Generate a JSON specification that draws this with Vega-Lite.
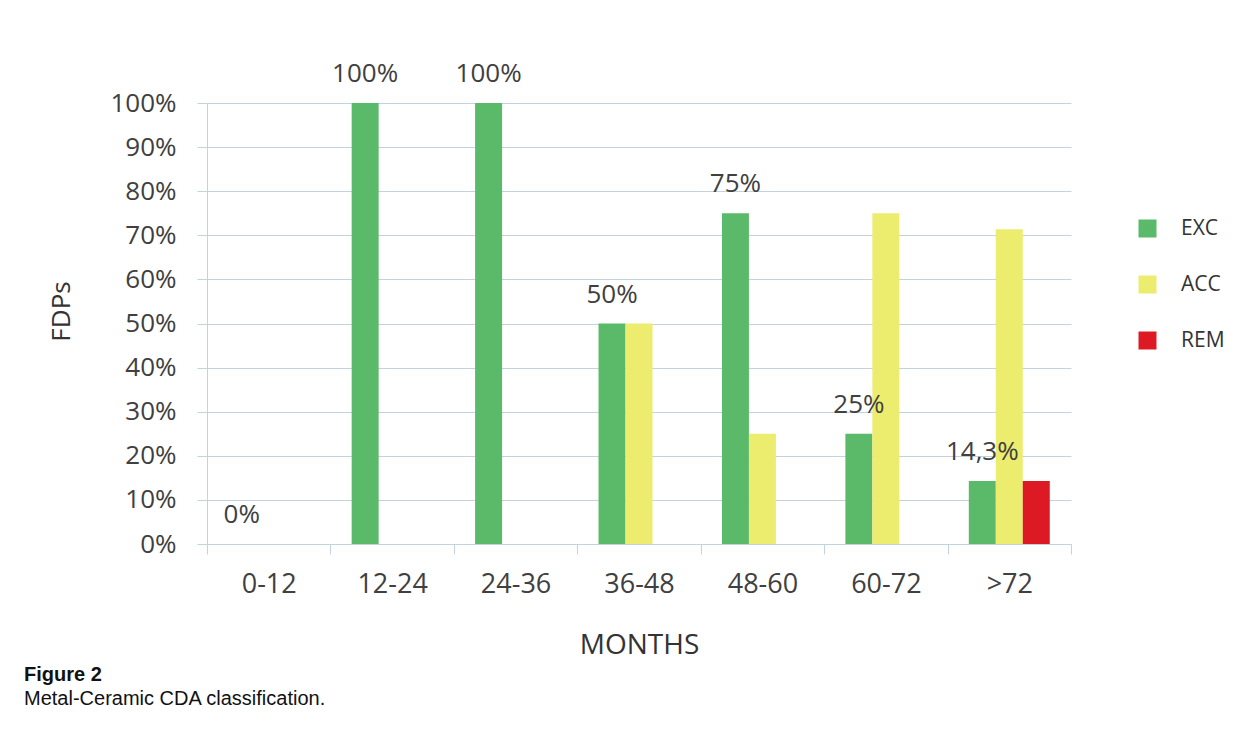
{
  "$schema": "https://vega.github.io/schema/vega-lite/v6.json",
  "autosize": "none",
  "width": 864,
  "height": 441,
  "padding": {"left": 207, "top": 103, "right": 172, "bottom": 185},
  "background": "white",
  "config": {
    "view": {"stroke": null},
    "font": "Open Sans",
    "axis": {
      "gridColor": "#c3d3de",
      "domainColor": "#c3d3de",
      "tickColor": "#c3d3de",
      "labelColor": "#404040",
      "titleColor": "#333333",
      "titleFontWeight": "normal",
      "labelFont": "Open Sans",
      "titleFont": "Open Sans"
    }
  },
  "title": {
    "text": "Figure 2",
    "subtitle": "Metal-Ceramic CDA classification.",
    "orient": "bottom",
    "anchor": "start",
    "frame": "group",
    "dx": -183,
    "offset": 6,
    "font": "Liberation Sans",
    "fontSize": 20,
    "fontWeight": "bold",
    "color": "#111111",
    "subtitleFont": "Liberation Sans",
    "subtitleFontSize": 20,
    "subtitleColor": "#111111",
    "subtitlePadding": 4
  },
  "data": {
    "values": [
      {"months": "0-12", "series": "EXC", "pct": 0, "label": "0%"},
      {"months": "12-24", "series": "EXC", "pct": 100, "label": "100%"},
      {"months": "24-36", "series": "EXC", "pct": 100, "label": "100%"},
      {"months": "36-48", "series": "EXC", "pct": 50, "label": "50%"},
      {"months": "36-48", "series": "ACC", "pct": 50, "label": ""},
      {"months": "48-60", "series": "EXC", "pct": 75, "label": "75%"},
      {"months": "48-60", "series": "ACC", "pct": 25, "label": ""},
      {"months": "60-72", "series": "EXC", "pct": 25, "label": "25%"},
      {"months": "60-72", "series": "ACC", "pct": 75, "label": ""},
      {"months": ">72", "series": "EXC", "pct": 14.3, "label": "14,3%"},
      {"months": ">72", "series": "ACC", "pct": 71.4, "label": ""},
      {"months": ">72", "series": "REM", "pct": 14.3, "label": ""}
    ]
  },
  "encoding": {
    "x": {
      "field": "months",
      "type": "nominal",
      "sort": ["0-12", "12-24", "24-36", "36-48", "48-60", "60-72", ">72"],
      "scale": {"paddingInner": 0, "paddingOuter": 0},
      "axis": {
        "title": "MONTHS",
        "titleFontSize": 28,
        "titlePadding": 34,
        "labelAngle": 0,
        "labelFontSize": 27,
        "labelPadding": 17,
        "tickSize": 10,
        "tickBand": "extent",
        "grid": false
      }
    },
    "xOffset": {
      "field": "series",
      "type": "nominal",
      "scale": {"domain": ["EXC", "ACC", "REM"], "paddingInner": 0, "paddingOuter": 0.787}
    },
    "y": {
      "field": "pct",
      "type": "quantitative",
      "scale": {"domain": [0, 100], "nice": false},
      "axis": {
        "values": [0, 10, 20, 30, 40, 50, 60, 70, 80, 90, 100],
        "labelExpr": "datum.value + '%'",
        "labelFontSize": 26,
        "labelPadding": 21,
        "tickSize": 10,
        "title": "FDPs",
        "titleFontSize": 26,
        "titleAngle": 270,
        "titleX": -146,
        "titleY": 208,
        "titleAlign": "center",
        "titleBaseline": "middle"
      }
    }
  },
  "layer": [
    {
      "mark": {"type": "bar"},
      "encoding": {
        "color": {
          "field": "series",
          "type": "nominal",
          "scale": {"domain": ["EXC", "ACC", "REM"], "range": ["#5bba6a", "#ecec6e", "#dd1a24"]},
          "legend": {
            "title": null,
            "orient": "none",
            "legendX": 930,
            "legendY": 115,
            "symbolType": "square",
            "symbolSize": 324,
            "symbolStrokeWidth": 0,
            "labelFontSize": 21,
            "labelColor": "#333333",
            "labelFont": "Open Sans",
            "labelOffset": 23,
            "rowPadding": 34
          }
        }
      }
    },
    {
      "transform": [{"filter": "datum.label != ''"}],
      "mark": {"type": "text", "dy": -29, "fontSize": 26, "color": "#404040", "baseline": "middle"},
      "encoding": {"text": {"field": "label"}}
    }
  ]
}
